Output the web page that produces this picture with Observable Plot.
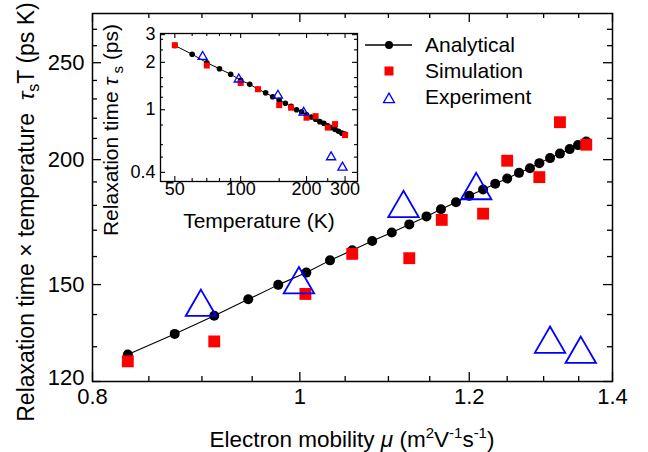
<!DOCTYPE html>
<html><head><meta charset="utf-8">
<script src="https://cdn.jsdelivr.net/npm/d3@7"></script>
<script src="https://cdn.jsdelivr.net/npm/@observablehq/plot@0.6"></script>
<style>
body{margin:0;background:#fff;}
#wrap{position:relative;width:648px;height:452px;}
#wrap svg{position:absolute;left:0;top:0;}
</style></head><body><div id="wrap"></div>
<script>
// ---- data ----
const temps    = [50,60,70,80,90,100,110,120,130,140,150,160,170,180,190,200,210,220,230,240,250,260,270,280,290,300];
const mobility = [0.831,0.874,0.912,0.946,0.977,1.007,1.033,1.058,1.081,1.104,1.125,1.146,1.164,1.183,1.200,1.218,1.234,1.250,1.266,1.281,1.294,1.309,1.323,1.337,1.349,1.361];
const tauT     = [127.7,133.9,139.6,145.0,149.9,154.2,158.6,162.3,165.8,169.1,172.3,175.5,178.4,181.3,184.0,186.7,189.2,191.5,194.0,196.1,198.4,200.7,202.8,204.9,206.8,208.5];
const tau      = [2.56,2.25,1.99,1.82,1.68,1.54,1.45,1.35,1.28,1.21,1.15,1.10,1.05,1.00,0.97,0.93,0.90,0.87,0.84,0.82,0.79,0.77,0.75,0.73,0.71,0.70];

const simT        = [50,70,100,120,150,170,200,220,250,270,300];
const simMobility = [0.831,0.912,1.006,1.058,1.125,1.165,1.218,1.250,1.294,1.323,1.361];
const simTauT     = [125.7,131.6,146.8,161.0,159.4,174.1,176.6,199.5,192.1,218.0,207.0];
const simTau      = [2.57,1.91,1.48,1.35,1.07,1.03,0.89,0.91,0.77,0.81,0.69];

const expT        = [67,98,148,194,259,292];
const expMobility = [0.899,0.999,1.118,1.209,1.309,1.353];
const expTauT     = [142.4,150.0,178.8,186.3,130.8,127.8];
const expTau      = [2.17,1.56,1.23,0.96,0.50,0.43];

const xTickLabels = [0.8,1,1.2,1.4];
const xMinorTicks = [0.85,0.9,0.95,1.05,1.1,1.15,1.25,1.3,1.35];
const yTickLabels = [120,150,200,250];
const yMinorTicks = [130,140,160,170,180,190,210,220,230,240,260,270];

const inXTickLabels = [50,100,200,300];
const inXMinorTicks = [60,70,80,90,150,250];
const inYTickLabels = [0.4,1,2,3];
const inYMinorTicks = [0.5,0.6,0.8,1.2,1.4,1.6,2.4,2.8];

const seriesNames = ["Analytical","Simulation","Experiment"];

// ---- build ----
const FONT = '"Liberation Sans", Arial, sans-serif';
const W = 648, H = 452;
const analytic = temps.map((t,i)=>({t, mu: mobility[i], tauT: tauT[i], tau: tau[i]}));
const sim = simT.map((t,i)=>({t, mu: simMobility[i], tauT: simTauT[i], tau: simTau[i]}));
const expd = expT.map((t,i)=>({t, mu: expMobility[i], tauT: expTauT[i], tau: expTau[i]}));

const M = {left:92, right:36, top:13, bottom:71};
const FH = H - M.top - M.bottom, FW = W - M.left - M.right;
const tk = {stroke:"black", strokeWidth:1.3};

const mainPlot = Plot.plot({
  width: W, height: H,
  marginLeft: M.left, marginRight: M.right, marginTop: M.top, marginBottom: M.bottom,
  x: {type:"log", domain:[0.8,1.4], axis:null},
  y: {type:"log", domain:[120,280], axis:null},
  style: {fontFamily: FONT, background:"transparent", overflow:"visible"},
  marks: [
    Plot.ruleX(xTickLabels, {...tk, insetTop: FH-9}),
    Plot.ruleX(xTickLabels, {...tk, insetBottom: FH-9}),
    Plot.ruleX(xMinorTicks, {...tk, insetTop: FH-5}),
    Plot.ruleX(xMinorTicks, {...tk, insetBottom: FH-5}),
    Plot.ruleY(yTickLabels, {...tk, insetRight: FW-9}),
    Plot.ruleY(yTickLabels, {...tk, insetLeft: FW-9}),
    Plot.ruleY(yMinorTicks, {...tk, insetRight: FW-5}),
    Plot.ruleY(yMinorTicks, {...tk, insetLeft: FW-5}),
    Plot.frame({stroke:"black", strokeWidth:1.5}),
    Plot.line(analytic, {x:"mu", y:"tauT", stroke:"black", strokeWidth:1.1}),
    Plot.dot(analytic, {x:"mu", y:"tauT", r:5, fill:"black"}),
    Plot.dot(sim, {x:"mu", y:"tauT", symbol:"square", r:6.7, fill:"#ff0000"}),
    Plot.dot(expd, {x:"mu", y:"tauT", symbol:"triangle", r:11.3, stroke:"#0000ff", strokeWidth:1.8, fill:"none"}),
    Plot.text(xTickLabels, {x:d=>d, frameAnchor:"bottom", dy:22, text:d=>String(d), fontSize:22, fill:"black"}),
    Plot.text(yTickLabels.slice(1), {y:d=>d, frameAnchor:"left", dx:-8, textAnchor:"end", text:d=>String(d), fontSize:22, fill:"black"}),
    Plot.text(yTickLabels.slice(0,1), {y:d=>d, frameAnchor:"left", dx:-8, dy:-4, textAnchor:"end", text:d=>String(d), fontSize:22, fill:"black"})
  ]
});

const I = {left:160, right:291, top:33, bottom:271};
const IH = H - I.top - I.bottom, IW = W - I.left - I.right;
const tki = {stroke:"black", strokeWidth:1.1};
const insetPlot = Plot.plot({
  width: W, height: H,
  marginLeft: I.left, marginRight: I.right, marginTop: I.top, marginBottom: I.bottom,
  x: {type:"log", domain:[43,342], axis:null},
  y: {type:"log", domain:[0.35,3.05], axis:null},
  style: {fontFamily: FONT, background:"transparent", overflow:"visible"},
  marks: [
    Plot.ruleX(inXTickLabels, {...tki, insetTop: IH-5}),
    Plot.ruleX(inXTickLabels, {...tki, insetBottom: IH-5}),
    Plot.ruleX(inXMinorTicks, {...tki, insetTop: IH-3}),
    Plot.ruleX(inXMinorTicks, {...tki, insetBottom: IH-3}),
    Plot.ruleY(inYTickLabels, {...tki, insetRight: IW-5}),
    Plot.ruleY(inYTickLabels, {...tki, insetLeft: IW-5}),
    Plot.ruleY(inYMinorTicks, {...tki, insetRight: IW-3}),
    Plot.ruleY(inYMinorTicks, {...tki, insetLeft: IW-3}),
    Plot.frame({stroke:"black", strokeWidth:1.3}),
    Plot.line(analytic, {x:"t", y:"tau", stroke:"black", strokeWidth:1}),
    Plot.dot(analytic, {x:"t", y:"tau", r:2.8, fill:"black"}),
    Plot.dot(sim, {x:"t", y:"tau", symbol:"square", r:3.4, fill:"#ff0000"}),
    Plot.dot(expd, {x:"t", y:"tau", symbol:"triangle", r:3.4, stroke:"#0000ff", strokeWidth:1.3, fill:"none"}),
    Plot.text(inXTickLabels, {x:d=>d, frameAnchor:"bottom", dy:13, text:d=>String(d), fontSize:18, fill:"black"}),
    Plot.text(inYTickLabels, {y:d=>d, frameAnchor:"left", dx:-5, textAnchor:"end", text:d=>String(d), fontSize:18, fill:"black"})
  ]
});

const wrap = document.getElementById("wrap");
wrap.appendChild(mainPlot);
wrap.appendChild(insetPlot);

// ---- titles & legend ----
const sv = d3.select(mainPlot);
function addText(svg, x, y, rot, size, parts) {
  const t = svg.append("text")
    .attr("transform", `translate(${x},${y})` + (rot ? ` rotate(${rot})` : ""))
    .attr("text-anchor", "middle").attr("font-size", size)
    .attr("font-family", FONT).attr("fill", "black")
    .style("white-space", "pre");
  for (const p of parts) {
    const s = t.append("tspan").text(p.t);
    if (p.i) s.attr("font-style", "italic");
    if (p.dy) s.attr("dy", p.dy);
    if (p.fs) s.attr("font-size", p.fs);
  }
  return t;
}
addText(sv, 352, 447, 0, 22.5, [
  {t:"Electron mobility "}, {t:"\u03bc", i:true}, {t:" (m"},
  {t:"2", dy:-9, fs:15}, {t:"V", dy:9}, {t:"-1", dy:-9, fs:15}, {t:"s", dy:9},
  {t:"-1", dy:-9, fs:15}, {t:")", dy:9}
]);
addText(sv, 34, 212, -90, 23, [
  {t:"Relaxation time \u00d7 temperature  "}, {t:"\u03c4", i:true},
  {t:"s", dy:5, fs:16}, {t:"T", dy:-5}, {t:" (ps K)"}
]);
const si = d3.select(insetPlot);
addText(si, 118, 130, -90, 21, [
  {t:"Relaxation time "}, {t:"\u03c4", i:true}, {t:" s", dy:5, fs:15}, {t:" (ps)", dy:-5}
]);
addText(si, 259, 228, 0, 21, [{t:"Temperature (K)"}]);

// legend
const lg = sv.append("g").attr("font-family", FONT).attr("font-size", 21).attr("text-anchor","start");
lg.append("line").attr("x1",365).attr("x2",412).attr("y1",45).attr("y2",45).attr("stroke","black").attr("stroke-width",1.3);
lg.append("circle").attr("cx",389).attr("cy",45).attr("r",4).attr("fill","black");
lg.append("rect").attr("x",384.5).attr("y",66.5).attr("width",9).attr("height",9).attr("fill","#ff0000");
lg.append("path").attr("d", d3.symbol(d3.symbolTriangle, 52)()).attr("transform","translate(389,99.5)")
  .attr("fill","none").attr("stroke","#0000ff").attr("stroke-width",1.3);
seriesNames.forEach((n,i)=>{
  lg.append("text").attr("x",425).attr("y",52+i*26).attr("fill","black").attr("text-anchor","start").text(n);
});
</script></body></html>
